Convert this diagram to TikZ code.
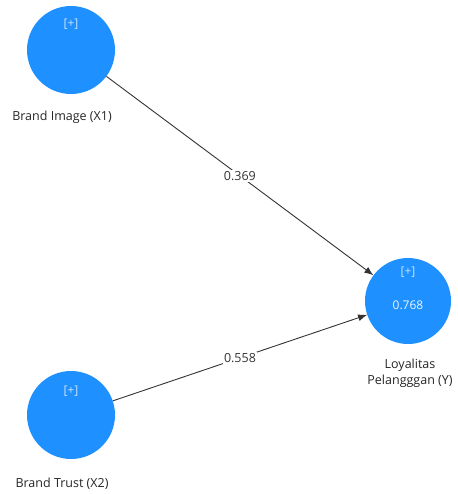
\documentclass[tikz,border=0pt]{standalone}
\usepackage{fontspec}
\setmainfont{Open Sans}
\usepackage{xcolor}
\usepackage{tikz}
\usetikzlibrary{arrows.meta, positioning}
\definecolor{lvblue}{RGB}{30,144,255}
\definecolor{lvpale}{RGB}{200,228,255}
\tikzset{
  latent/.style={circle, fill=lvblue, minimum size=88pt, inner sep=0pt},
  lvname/.style={font=\fontsize{12.5}{15.5}\selectfont, text=black!85, align=center},
  lvtag/.style={font=\fontsize{12}{14}\selectfont, text=lvpale},
  path/.style={draw=black!80, line width=0.9pt, -{Latex[length=9pt, width=7pt]}},
  coef/.style={fill=white, inner sep=1.5pt, font=\fontsize{12.5}{14}\selectfont, text=black!80}
}

\begin{document}
\begin{tikzpicture}[x=1pt, y=-1pt]
          \useasboundingbox (0,0) rectangle (457,494);
          % latent variables
          \node[latent] (x1) at (71,50) {};
          \node[latent] (x2) at (71,415) {};
          \node[latent, minimum size=86pt] (y) at (408,301) {};
          \node[lvtag] (x1tag) at (71,24) {[+]};
          \node[lvtag] (x2tag) at (71,391) {[+]};
          \node[lvtag] (ytag) at (408,272) {[+]};
          \node[lvtag, text=white!92!lvblue] (yr2) at (408,305) {0.768};
          \node[lvname] (x1name) at (62,117) {Brand Image (X1)};
          \node[lvname] (x2name) at (62,484) {Brand Trust (X2)};
          \node[lvname] (yname) at (410,373) {Loyalitas\\Pelangggan (Y)};
          % Draw the paths
          \draw[path] (x1) -- (y) node[coef, midway]{0.369};
          \draw[path] (x2) -- (y) node[coef, midway]{0.558};
        \end{tikzpicture}
\end{document}
